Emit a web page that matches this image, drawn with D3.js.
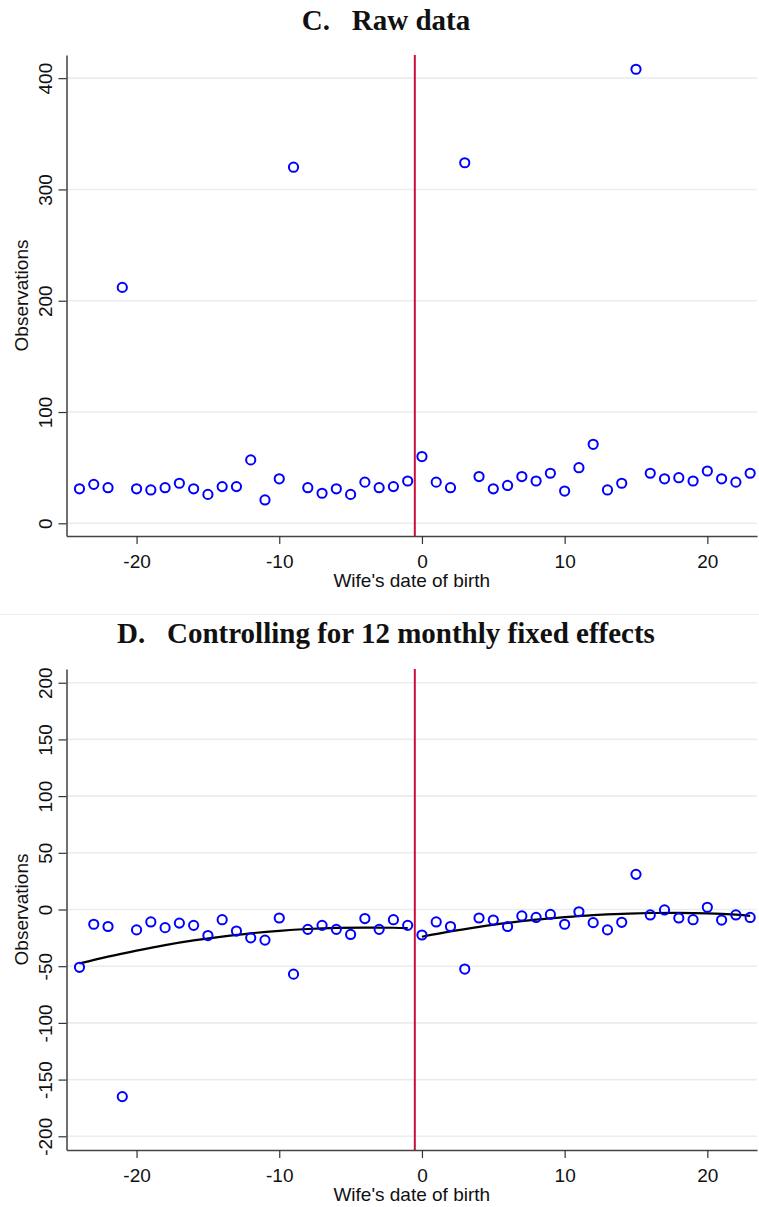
<!DOCTYPE html>
<html>
<head>
<meta charset="utf-8">
<script src="https://cdn.jsdelivr.net/npm/d3@7"></script>
<style>
  body { margin: 0; background: #fff; }
  svg { display: block; }
  text { font-family: "Liberation Sans", Arial, sans-serif; fill: #111; }
  .title { font-family: "Liberation Serif", "Times New Roman", serif; font-weight: bold; white-space: pre; }
</style>
</head>
<body>
<svg id="chart" width="759" height="1207"></svg>
<script>
// ---- data ----
const birthDates = [-24,-23,-22,-21,-20,-19,-18,-17,-16,-15,-14,-13,-12,-11,-10,-9,-8,-7,-6,-5,-4,-3,-2,-1,
                    0,1,2,3,4,5,6,7,8,9,10,11,12,13,14,15,16,17,18,19,20,21,22,23];
const rawObservations = [31,35,32,212,31,30,32,36,31,26,33,33,57,21,40,320,32,27,31,26,37,32,33,38,
                         60,37,32,324,42,31,34,42,38,45,29,50,71,30,36,408,45,40,41,38,47,40,37,45];
const feResiduals = [-51,-13,-15,-165,-18,-11,-16,-12,-14,-23,-9,-19,-25,-27,-7.5,-57,-17.5,-14,-17.5,-22,-8,-17.5,-9,-14,
                     -22.5,-11,-15,-52.5,-7.5,-9.3,-15,-5.7,-7,-4.3,-13,-2,-11.6,-18,-11.3,31,-4.8,-0.4,-7.5,-9,2,-9.3,-4.8,-7];
const fitLeftX = [-24,-22,-20,-18,-16,-14,-12,-10,-8,-6,-4,-2,-1];
const fitLeftY = [-47.5,-41.5,-36.2,-31.4,-27.3,-23.9,-21.0,-18.8,-17.2,-16.2,-15.9,-16.1,-16.5];
const fitRightX = [0,2,4,6,8,10,12,14,16,18,20,22,23];
const fitRightY = [-24,-19.3,-15.3,-11.8,-9.0,-6.8,-5.0,-3.8,-3.1,-2.9,-3.4,-4.6,-5.6];
const xTicks = [-20,-10,0,10,20];
const yTicksC = [0,100,200,300,400];
const yTicksD = [-200,-150,-100,-50,0,50,100,150,200];
const cutoff = -0.5;
const titleC = "C.   Raw data";
const titleD = "D.   Controlling for 12 monthly fixed effects";
const xLabel = "Wife's date of birth";
const yLabel = "Observations";

// ---- drawing ----
const svg = d3.select("#chart");
svg.append("rect").attr("width", 759).attr("height", 1207).attr("fill", "#fff");

const left = 66.5, right = 757;
const blue = "#0000ff";
const fmt = d => String(d);

function panel(opt) {
  const g = svg.append("g");
  const x = d3.scaleLinear().domain([-24.91, 23.48]).range([left, right]);
  const y = d3.scaleLinear().domain(opt.yDomain).range([opt.bottom, opt.top]);

  // title
  svg.append("text").attr("class", "title")
    .attr("x", 386).attr("y", opt.titleY)
    .attr("text-anchor", "middle")
    .style("font-size", "29px")
    .text(opt.title);

  // gridlines
  g.append("g").selectAll("line").data(opt.yTicks).join("line")
    .attr("x1", left).attr("x2", right)
    .attr("y1", d => y(d)).attr("y2", d => y(d))
    .attr("stroke", "#e6eef1").attr("stroke-width", 1.6);

  // cutoff line
  g.append("line")
    .attr("x1", x(cutoff)).attr("x2", x(cutoff))
    .attr("y1", opt.top).attr("y2", opt.bottom)
    .attr("stroke", "#c8103a").attr("stroke-width", 2);

  // fitted lines
  if (opt.fits) {
    const line = d3.line().x(d => x(d[0])).y(d => y(d[1])).curve(d3.curveNatural);
    opt.fits.forEach(f => {
      g.append("path").datum(f)
        .attr("d", line).attr("fill", "none")
        .attr("stroke", "#000").attr("stroke-width", 2.2);
    });
  }

  // points
  g.append("g").selectAll("circle").data(opt.values).join("circle")
    .attr("cx", (d, i) => x(birthDates[i]))
    .attr("cy", d => y(d))
    .attr("r", 4.6)
    .attr("fill", "none")
    .attr("stroke", blue).attr("stroke-width", 2);

  // y axis
  const ya = g.append("g").attr("transform", `translate(${left},0)`)
    .call(d3.axisLeft(y).tickValues(opt.yTicks).tickFormat(fmt).tickSize(8).tickSizeOuter(0));
  ya.select(".domain").attr("stroke", "#333").attr("stroke-width", 1.4);
  ya.selectAll(".tick line").attr("stroke", "#333").attr("stroke-width", 1.2);
  ya.selectAll(".tick text")
    .attr("transform", "rotate(-90)")
    .attr("x", 0).attr("y", -14.5).attr("dy", 0)
    .attr("text-anchor", "middle")
    .style("font-size", "19px")
    .style("font-family", "'Liberation Sans', Arial, sans-serif")
    .attr("fill", "#111");

  // x axis
  const xa = g.append("g").attr("transform", `translate(0,${opt.bottom})`)
    .call(d3.axisBottom(x).tickValues(xTicks).tickFormat(fmt).tickSize(8).tickSizeOuter(0));
  xa.select(".domain").attr("stroke", "#444").attr("stroke-width", 1.6);
  xa.selectAll(".tick line").attr("stroke", "#333").attr("stroke-width", 1.2);
  xa.selectAll(".tick text")
    .attr("y", 32).attr("dy", 0)
    .style("font-size", "19px")
    .style("font-family", "'Liberation Sans', Arial, sans-serif")
    .attr("fill", "#111");

  // axis titles
  svg.append("text")
    .attr("x", (left + right) / 2).attr("y", opt.bottom + 51)
    .attr("text-anchor", "middle").style("font-size", "19px")
    .text(xLabel);
  svg.append("text")
    .attr("transform", `translate(28,${(opt.top + opt.bottom) / 2}) rotate(-90)`)
    .attr("text-anchor", "middle").style("font-size", "19px")
    .text(yLabel);
}

panel({
  title: titleC, titleY: 29.5,
  top: 55, bottom: 536,
  yDomain: [-11.4, 420.8],
  yTicks: yTicksC,
  values: rawObservations
});

// separator
svg.append("line").attr("x1", 0).attr("x2", 759).attr("y1", 614.5).attr("y2", 614.5)
  .attr("stroke", "#eeeeee").attr("stroke-width", 1);

panel({
  title: titleD, titleY: 643,
  top: 669, bottom: 1150,
  yDomain: [-212.1, 212.1],
  yTicks: yTicksD,
  values: feResiduals,
  fits: [fitLeftX.map((v, i) => [v, fitLeftY[i]]), fitRightX.map((v, i) => [v, fitRightY[i]])]
});
</script>
</body>
</html>
